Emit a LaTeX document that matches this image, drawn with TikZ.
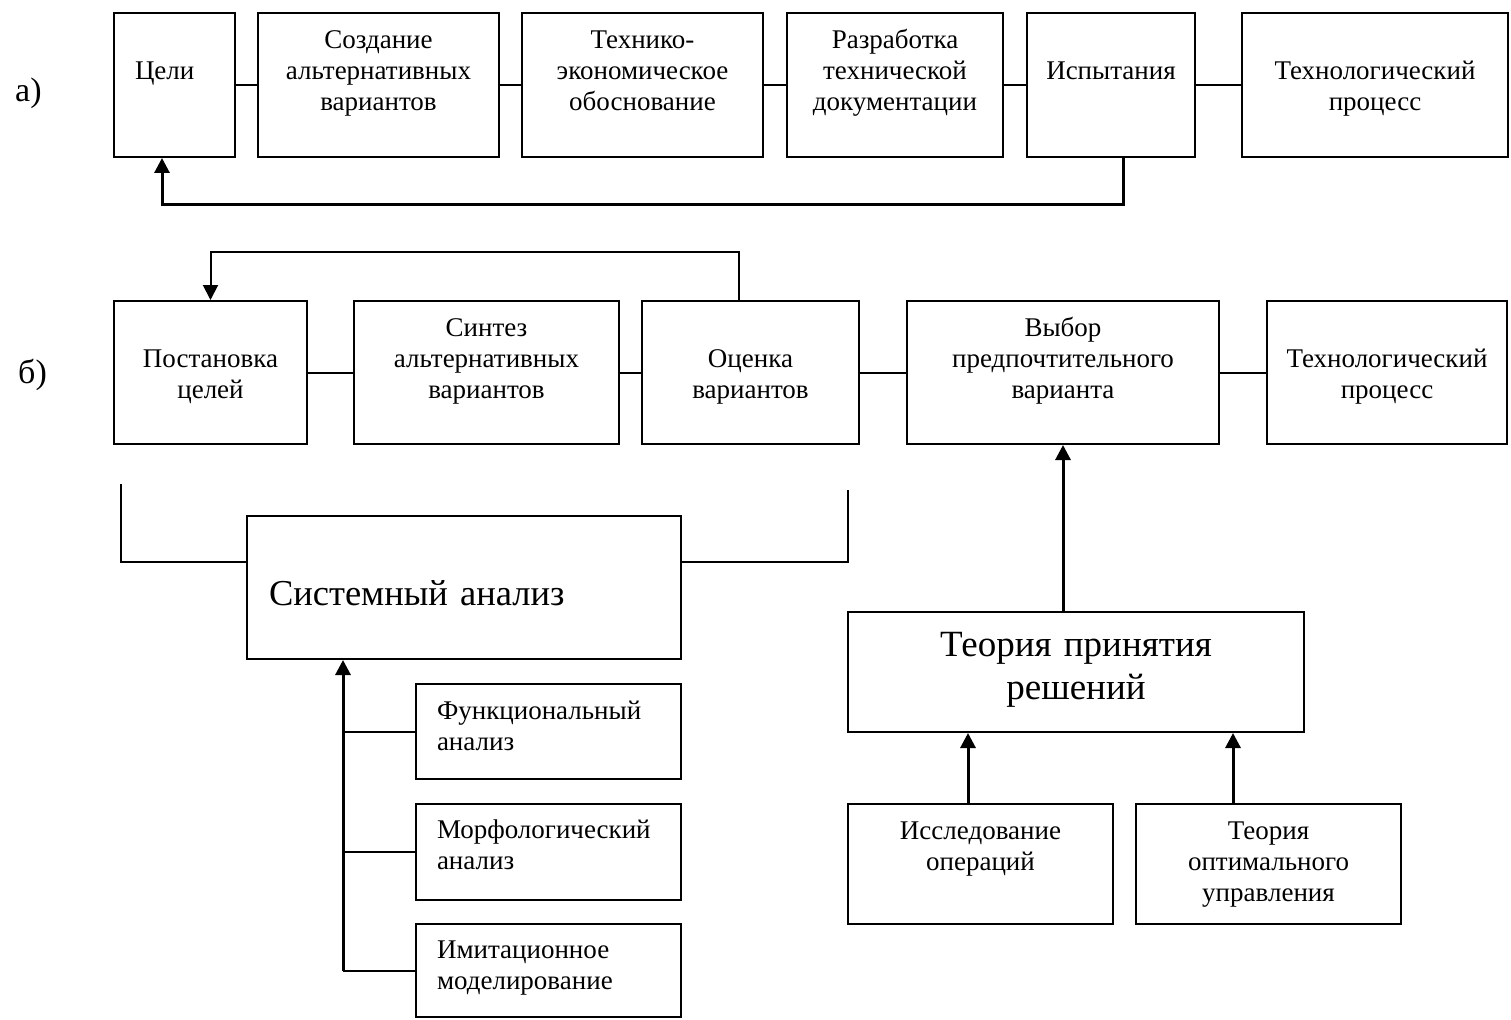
\documentclass[tikz,border=0pt]{standalone}
\usepackage{fontspec}
\setmainfont{Liberation Serif}
\usetikzlibrary{arrows.meta}

\begin{document}
\begin{tikzpicture}[
    x=1pt, y=-1pt,
    box/.style={draw, line width=2pt, anchor=north west, inner xsep=5pt, inner ysep=0pt, align=center, font=\fontsize{27}{31}\selectfont},
    leftbox/.style={box, inner xsep=21pt, align=left},
    bigbox/.style={box, font=\fontsize{37}{43}\selectfont},
    link/.style={line width=2pt},
    arrow/.style={-{Triangle[width=15pt,length=15pt]}, line width=3pt},
    lbl/.style={anchor=base west, inner sep=0pt, font=\fontsize{34}{40}\selectfont}
]
    \useasboundingbox (0,0) rectangle (1511,1019);

    \node[lbl] (labela) at (15,102) {а)};
    \node[lbl] (labelb) at (18,383) {б)};

    \node[leftbox, text width=79pt, text height=67pt, text depth=77pt] (goal) at (113,12) {Цели};
    \node[box, text width=231pt, text height=36pt, text depth=108pt] (create) at (257,12) {Создание\\альтернативных\\вариантов};
    \node[box, text width=231pt, text height=36pt, text depth=108pt] (feas) at (521,12) {Технико-\\экономическое\\обоснование};
    \node[box, text width=206pt, text height=36pt, text depth=108pt] (docs) at (786,12) {Разработка\\технической\\документации};
    \node[box, text width=158pt, text height=67pt, text depth=77pt] (test) at (1026,12) {Испытания};
    \node[box, text width=256pt, text height=67pt, text depth=77pt] (proca) at (1241,12) {Технологический\\процесс};

    \node[box, text width=183pt, text height=66pt, text depth=77pt] (setgoal) at (113,300) {Постановка\\целей};
    \node[box, text width=255pt, text height=35pt, text depth=108pt] (synth) at (353,300) {Синтез\\альтернативных\\вариантов};
    \node[box, text width=207pt, text height=66pt, text depth=77pt] (est) at (641,300) {Оценка\\вариантов};
    \node[box, text width=302pt, text height=35pt, text depth=108pt] (choice) at (906,300) {Выбор\\предпочтительного\\варианта};
    \node[box, text width=230pt, text height=66pt, text depth=77pt] (procb) at (1266,300) {Технологический\\процесс};

    \node[leftbox, inner xsep=22pt, font=\fontsize{36.5}{44}\selectfont, text width=390pt, text height=89pt, text depth=54pt] (sa) at (246,515) {Системный анализ};
    \node[leftbox, text width=223pt, text height=35pt, text depth=60pt] (func) at (415,683) {Функциональный\\анализ};
    \node[leftbox, text width=223pt, text height=34pt, text depth=62pt] (morph) at (415,803) {Морфологический\\анализ};
    \node[leftbox, text width=223pt, text height=34pt, text depth=59pt] (sim) at (415,923) {Имитационное\\моделирование};

    \node[bigbox, text width=446pt, text height=44pt, text depth=76pt] (dt) at (847,611) {Теория принятия\\решений};
    \node[box, text width=255pt, text height=35pt, text depth=85pt] (ops) at (847,803) {Исследование\\операций};
    \node[box, text width=255pt, text height=35pt, text depth=85pt] (opt) at (1135,803) {Теория\\оптимального\\управления};

    \draw[link] (goal) -- (create);
    \draw[link] (create) -- (feas);
    \draw[link] (feas) -- (docs);
    \draw[link] (docs) -- (test);
    \draw[link] (test) -- (proca);
    \coordinate (backa) at (0,204);
    \draw[arrow] ([xshift=12pt]test.south) -- ([xshift=12pt]test.south |- backa) -| ([xshift=-12.5pt]goal.south);

    \draw[link] (setgoal) -- (synth);
    \draw[link] (synth) -- (est);
    \draw[link] (est) -- (choice);
    \draw[link] (choice) -- (procb);
    \coordinate (backb) at (0,252);
    \draw[arrow, line width=2pt] ([xshift=-11.5pt]est.north) -- ([xshift=-11.5pt]est.north |- backb) -| (setgoal.north);

    \coordinate (brl) at (121,484);
    \coordinate (brr) at (848,490);
    \coordinate (brk) at (0,562);
    \draw[link] (brl) -- (brl |- brk) -- (sa.west |- brk);
    \draw[link] (sa.east |- brk) -- (brr |- brk) -- (brr);

    \coordinate (trunk) at (343,0);
    \draw[arrow] (sim.west -| trunk) -- (trunk |- sa.south);
    \foreach \n in {func,morph,sim}
        \draw[link] (\n.west) -- (\n.west -| trunk);

    \draw[arrow] (dt.north -| choice.south) -- (choice.south);
    \draw[arrow] ([xshift=-12.5pt]ops.north) -- ([xshift=-12.5pt]ops.north |- dt.south);
    \draw[arrow] ([xshift=-35.5pt]opt.north) -- ([xshift=-35.5pt]opt.north |- dt.south);
\end{tikzpicture}
\end{document}
